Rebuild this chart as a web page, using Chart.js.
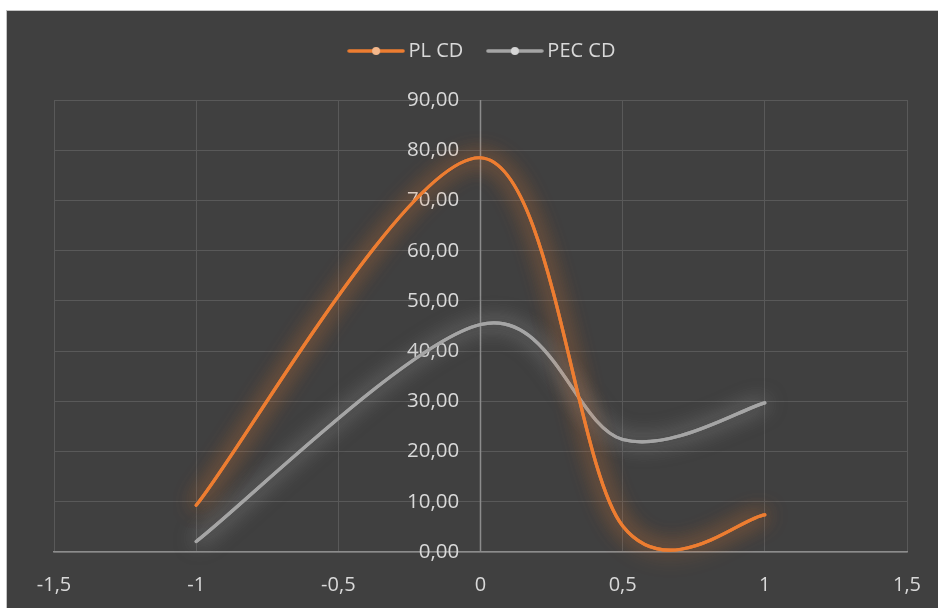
<!DOCTYPE html>
<html>
<head>
<meta charset="utf-8">
<script src="https://cdn.jsdelivr.net/npm/chart.js@4.4.0/dist/chart.umd.js"></script>
<style>
    html, body { margin: 0; padding: 0; background: #ffffff; }
    #wrap { position: relative; width: 938px; height: 608px; overflow: hidden; }
    #frame {
        position: absolute; left: 6px; top: 10px; right: 0; bottom: 0;
        background: #404040;
        border-left: 1px solid #c4c4c4;
        border-top: 1px solid #c4c4c4;
    }
    #chart { position: absolute; left: 0; top: 0; }
</style>
</head>
<body>
<div id="wrap">
    <div id="frame"></div>
    <canvas id="chart" width="938" height="608"></canvas>
</div>
<script>
// values
const xValues = [-1, 0, 0.5, 1];
const plCd = [9.3, 78.5, 5.2, 7.4];
const pecCd = [2.1, 45.3, 22.4, 29.7];

const xTicks = [-1.5, -1, -0.5, 0, 0.5, 1, 1.5];
const yMin = 0;
const yMax = 90;
const yStep = 10;
// the y axis labels sit just left of x = 0
const yAxisAt = -0.075;

const seriesNames = ['PL CD', 'PEC CD'];

const ORANGE = '#ED7D31';
const GREY = '#A5A5A5';
const TEXT = '#d9d9d9';
const GRID = '#595959';
const AXIS = '#8c8c8c';
const FONT = "'Open Sans', 'DejaVu Sans', sans-serif";

// legend symbol: line with a dot in the middle, like Excel
function legendIcon(color, dotColor) {
    const c = document.createElement('canvas');
    c.width = 58;
    c.height = 12;
    const g = c.getContext('2d');
    g.strokeStyle = color;
    g.lineWidth = 3.5;
    g.lineCap = 'round';
    g.beginPath();
    g.moveTo(2, 6);
    g.lineTo(56, 6);
    g.stroke();
    g.fillStyle = dotColor;
    g.beginPath();
    g.arc(29, 6, 4, 0, Math.PI * 2);
    g.fill();
    return c;
}

function toPoints(values) {
    return xValues.map((x, i) => ({ x: x, y: values[i] }));
}

const glowColors = ['rgba(237,125,49,0.8)', 'rgba(175,175,175,0.7)'];

// Excel style smoothing (control points = neighbour difference / 6) plus soft glow
const excelLines = {
    id: 'excelLines',
    beforeDatasetDraw(chart, args) {
        const meta = args.meta;
        const pts = meta.data;
        meta.dataset.updateControlPoints(chart.chartArea, 'x');
        for (let i = 0; i < pts.length; i++) {
            const prev = pts[Math.max(i - 1, 0)];
            const next = pts[Math.min(i + 1, pts.length - 1)];
            const dx = (next.x - prev.x) / 6;
            const dy = (next.y - prev.y) / 6;
            pts[i].cp1x = pts[i].x - dx;
            pts[i].cp1y = pts[i].y - dy;
            pts[i].cp2x = pts[i].x + dx;
            pts[i].cp2y = pts[i].y + dy;
        }
        const ctx = chart.ctx;
        ctx.save();
        ctx.shadowColor = glowColors[args.index];
        ctx.shadowBlur = 22;
    },
    afterDatasetDraw(chart, args) {
        // second pass makes the halo a bit denser
        args.meta.dataset.draw(chart.ctx, chart.chartArea);
        chart.ctx.restore();
    }
};

// extra room under the legend, and nudge it a little to the right
const legendTweak = {
    id: 'legendTweak',
    beforeInit(chart) {
        const legend = chart.legend;
        const fit = legend.fit;
        const draw = legend.draw;
        legend.fit = function () {
            fit.call(this);
            this.height += 29;
        };
        legend.draw = function () {
            this.left += 4;
            this.right += 4;
            draw.call(this);
            this.left -= 4;
            this.right -= 4;
        };
    }
};

// vertical axis line at x = 0 (the y scale itself is shifted a little for its labels)
const zeroLine = {
    id: 'zeroLine',
    beforeDatasetsDraw(chart) {
        const ctx = chart.ctx;
        const x = chart.scales.x.getPixelForValue(0);
        const area = chart.chartArea;
        ctx.save();
        ctx.strokeStyle = AXIS;
        ctx.lineWidth = 1.5;
        ctx.beginPath();
        ctx.moveTo(x, area.top);
        ctx.lineTo(x, area.bottom);
        ctx.stroke();
        ctx.restore();
    }
};

const fmtComma = (v, digits) => {
    const s = digits === undefined ? String(v) : v.toFixed(digits);
    return s.replace('.', ',');
};

const lineStyle = {
    showLine: true,
    borderWidth: 3.2,
    borderCapStyle: 'round',
    tension: 0.4,
    capBezierPoints: false,
    pointRadius: 0,
    pointHoverRadius: 0
};

new Chart(document.getElementById('chart'), {
    type: 'scatter',
    data: {
        datasets: [
            Object.assign({
                label: seriesNames[0],
                data: toPoints(plCd),
                borderColor: ORANGE,
                backgroundColor: ORANGE,
                pointStyle: legendIcon(ORANGE, '#f4b88c')
            }, lineStyle),
            Object.assign({
                label: seriesNames[1],
                data: toPoints(pecCd),
                borderColor: GREY,
                backgroundColor: GREY,
                pointStyle: legendIcon(GREY, '#d6d6d6')
            }, lineStyle)
        ]
    },
    options: {
        responsive: false,
        animation: false,
        layout: {
            padding: { left: 54, right: 31, top: 12, bottom: 0 }
        },
        plugins: {
            legend: {
                position: 'top',
                labels: {
                    usePointStyle: true,
                    pointStyleWidth: 45,
                    padding: 29,
                    color: TEXT,
                    font: { family: FONT, size: 20 }
                }
            },
            tooltip: { enabled: false }
        },
        scales: {
            x: {
                type: 'linear',
                position: 'bottom',
                min: xTicks[0],
                max: xTicks[xTicks.length - 1],
                afterBuildTicks: (scale) => {
                    scale.ticks = xTicks.map(v => ({ value: v }));
                },
                afterFit: (scale) => {
                    scale.height = 56;
                },
                grid: { color: GRID, lineWidth: 1, drawTicks: false },
                border: { color: AXIS, width: 1.5 },
                ticks: {
                    padding: 10,
                    color: TEXT,
                    font: { family: FONT, size: 20, lineHeight: 2.3 },
                    callback: (v) => fmtComma(v)
                }
            },
            y: {
                type: 'linear',
                position: { x: yAxisAt },
                min: yMin,
                max: yMax,
                grid: { color: GRID, lineWidth: 1, drawTicks: false },
                border: { display: false },
                ticks: {
                    stepSize: yStep,
                    padding: 0,
                    color: TEXT,
                    font: { family: FONT, size: 20.5 },
                    callback: (v) => fmtComma(v, 2)
                }
            }
        }
    },
    plugins: [excelLines, legendTweak, zeroLine]
});
</script>
</body>
</html>
